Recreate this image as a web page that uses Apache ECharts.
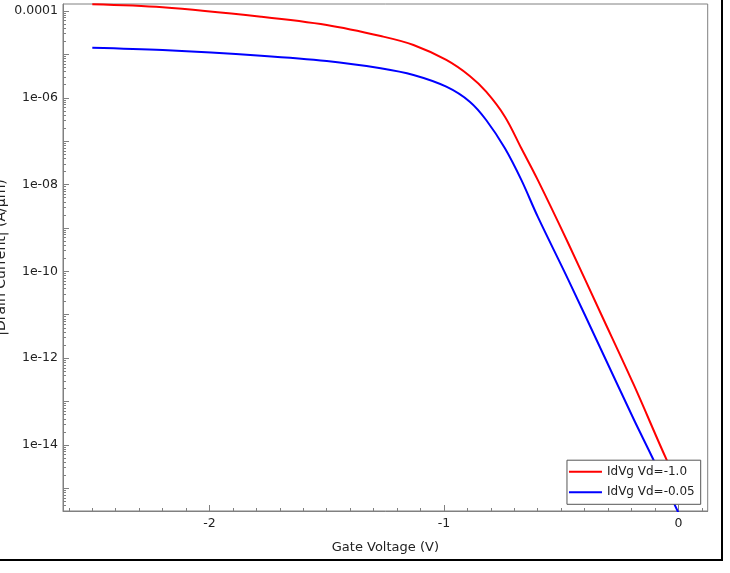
<!DOCTYPE html>
<html>
<head>
<meta charset="utf-8">
<title>IdVg</title>
<script src="https://cdn.jsdelivr.net/npm/echarts@6/dist/echarts.min.js"></script>
<style>
  html, body { margin: 0; padding: 0; background: #fff; }
  #chart { width: 721px; height: 559px; border-right: 2px solid #000; border-bottom: 2px solid #000; }
</style>
</head>
<body>
<div id="chart"></div>
<script>
// gate voltage (V) and |drain current| (A/um)
var vgHigh = [-2.5, -2.2, -1.78, -1.5, -1.27, -1.13, -0.99, -0.89, -0.82, -0.74, -0.67, -0.6, -0.47, -0.33, -0.19, -0.05, 0];
var idHigh = [1.43e-4, 1.22e-4, 7.4e-5, 4.76e-5, 2.65e-5, 1.65e-5, 7.43e-6, 3.18e-6, 1.38e-6, 3.67e-7, 6.86e-8, 1.28e-8, 4.44e-10, 1.04e-11, 2.41e-13, 4.51e-15, 1.3e-15];
var vgLow = [-2.5, -2.2, -1.78, -1.5, -1.27, -1.13, -0.99, -0.89, -0.82, -0.74, -0.67, -0.6, -0.47, -0.33, -0.19, -0.11, 0];
var idLow = [1.43e-5, 1.26e-5, 9.33e-6, 7.05e-6, 4.79e-6, 3.35e-6, 1.8e-6, 8.13e-7, 3.08e-7, 6.86e-8, 1.28e-8, 1.82e-9, 6.44e-11, 1.58e-12, 3.85e-14, 5.0e-15, 2.74e-16];

var xMajorTicks = [-2, -1, 0];
var xMinorTicks = [-2.6, -2.5, -2.4, -2.3, -2.2, -2.1, -1.9, -1.8, -1.7, -1.6, -1.5, -1.4, -1.3, -1.2, -1.1,
                   -0.9, -0.8, -0.7, -0.6, -0.5, -0.4, -0.3, -0.2, -0.1, 0.1];
var yLabelTicks = [1e-4, 1e-6, 1e-8, 1e-10, 1e-12, 1e-14];
var yDecadeTicks = [1e-4, 1e-5, 1e-6, 1e-7, 1e-8, 1e-9, 1e-10, 1e-11, 1e-12, 1e-13, 1e-14, 1e-15];

// 2..9 minor ticks inside each decade
var yMinorTicks = [];
for (var e = -16; e <= -4; e++) {
    for (var k = 2; k <= 9; k++) {
        yMinorTicks.push(k * Math.pow(10, e));
    }
}

var FONT = 'DejaVu Sans';
var AXIS_GRAY = '#808080';

function zip(xs, ys) {
    var out = [];
    for (var i = 0; i < xs.length; i++) out.push([xs[i], ys[i]]);
    return out;
}

function expLabel(v) {
    var p = Math.round(Math.log10(v));
    if (p >= -4) return '0.0001';
    var n = String(-p);
    if (n.length < 2) n = '0' + n;
    return '1e-' + n;
}

var xMin = -2.625, xMax = 0.125;
var yMin = 3.0e-16, yMax = 1.45e-4;
var gridBox = { left: 63, right: 13.3, top: 4, bottom: 48, outerBoundsMode: 'none' };

var chart = echarts.init(document.getElementById('chart'));
var option = {
    animation: false,
    textStyle: { fontFamily: FONT },
    grid: [
        Object.assign({ show: true, borderColor: AXIS_GRAY, borderWidth: 1 }, gridBox),
        // same box again, only carries the minor ticks
        Object.assign({ show: false }, gridBox)
    ],
    legend: {
        orient: 'vertical',
        right: 20.3,
        bottom: 54.7,
        padding: [4, 6, 4.5, 2],
        itemGap: 5.6,
        itemWidth: 33,
        itemHeight: 2,
        icon: 'rect',
        backgroundColor: '#fff',
        borderColor: '#555',
        borderWidth: 1,
        borderRadius: 0,
        textStyle: { fontFamily: FONT, fontSize: 12, lineHeight: 15, color: '#222' },
        data: ['IdVg Vd=-1.0', 'IdVg Vd=-0.05']
    },
    xAxis: [
        {
            type: 'value', gridIndex: 0, min: xMin, max: xMax, position: 'bottom',
            name: 'Gate Voltage (V)', nameLocation: 'middle', nameGap: 30,
            nameTextStyle: { fontFamily: FONT, fontSize: 13, color: '#222' },
            axisLine: { show: true, onZero: false, lineStyle: { color: AXIS_GRAY } },
            axisTick: { show: true, inside: true, length: 6, customValues: xMajorTicks, lineStyle: { color: AXIS_GRAY } },
            axisLabel: { customValues: xMajorTicks, margin: 6, fontFamily: FONT, fontSize: 12.5, color: '#222' },
            splitLine: { show: false }
        },
        {
            type: 'value', gridIndex: 1, min: xMin, max: xMax, position: 'bottom',
            axisLine: { show: false, onZero: false },
            axisTick: { show: true, inside: true, length: 3, customValues: xMinorTicks, lineStyle: { color: AXIS_GRAY } },
            axisLabel: { show: false },
            splitLine: { show: false }
        }
    ],
    yAxis: [
        {
            type: 'log', gridIndex: 0, logBase: 10, min: yMin, max: yMax, position: 'left',
            name: '|Drain Current| (A/\u03bcm)', nameLocation: 'middle', nameGap: 55,
            nameMoveOverlap: false,
            nameTextStyle: { fontFamily: FONT, fontSize: 14, color: '#222' },
            axisLine: { show: true, onZero: false, lineStyle: { color: AXIS_GRAY } },
            axisTick: { show: true, inside: true, length: 6, customValues: yDecadeTicks, lineStyle: { color: AXIS_GRAY } },
            axisLabel: { customValues: yLabelTicks, margin: 5, fontFamily: FONT, fontSize: 12.5, color: '#222', formatter: expLabel },
            splitLine: { show: false }
        },
        {
            type: 'log', gridIndex: 1, logBase: 10, min: yMin, max: yMax, position: 'left',
            axisLine: { show: false, onZero: false },
            axisTick: { show: true, inside: true, length: 3, customValues: yMinorTicks, lineStyle: { color: AXIS_GRAY } },
            axisLabel: { show: false },
            splitLine: { show: false }
        }
    ],
    series: [
        {
            name: 'IdVg Vd=-1.0', type: 'line', xAxisIndex: 0, yAxisIndex: 0,
            data: zip(vgHigh, idHigh), showSymbol: false, symbol: 'none', smooth: 0.35,
            color: '#ff0000', lineStyle: { color: '#ff0000', width: 2 }
        },
        {
            name: 'IdVg Vd=-0.05', type: 'line', xAxisIndex: 0, yAxisIndex: 0,
            data: zip(vgLow, idLow), showSymbol: false, symbol: 'none', smooth: 0.35,
            color: '#0000ff', lineStyle: { color: '#0000ff', width: 2 }
        }
    ]
};
chart.setOption(option);
</script>
</body>
</html>
